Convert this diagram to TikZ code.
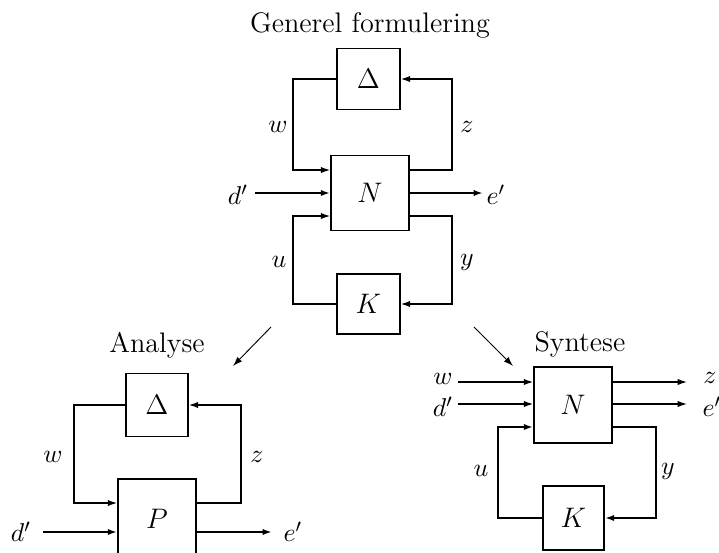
\documentclass[tikz,border=0pt]{standalone}
\usetikzlibrary{arrows.meta}
\begin{document}
\begin{tikzpicture}[x=0.425pt,y=-0.425pt,
 box/.style={draw,line width=0.7pt,inner sep=0pt,font=\large},
 sz/.style 2 args={minimum width=#1*0.425pt,minimum height=#2*0.425pt},
 thin/.style={line width=0.55pt},
 hair/.style={line width=0.4pt},
 thk/.style={line width=0.9pt},
 arr/.style={-{Latex[length=4pt,width=2.7pt]}},
 lbl/.style={inner sep=0pt,font=\fontsize{10.95}{13}\selectfont},
 ttl/.style={font=\large,inner sep=0pt}]
\useasboundingbox (0,0) rectangle (719,552);
\clip (0,0) rectangle (719,552);
% ---------- top: Generel formulering
\node[ttl] (t1) at (370,25) {Generel formulering};
\node[box,sz={63}{61}] (D1) at (368.5,79) {$\Delta$};
\node[box,sz={78}{75}] (N1) at (370,193) {$N$};
\node[box,sz={63}{60}] (K1) at (368.5,304) {$K$};
\coordinate (w1) at (293,170);
\coordinate (z1) at (452,170);
\coordinate (u1) at (293,216);
\coordinate (y1) at (452,216);
\coordinate (d1) at (255,193);
\coordinate (e1) at (483,193);
\draw[thin,arr] (D1.west) -| (w1) -- (N1.west |- w1);
\draw[thin,arr] (N1.east |- z1) -- (z1) |- (D1.east);
\draw[thin,arr] (K1.west) -| (u1) -- (N1.west |- u1);
\draw[thin,arr] (N1.east |- y1) -- (y1) |- (K1.east);
\draw[thk,arr] (d1) -- (N1.west);
\draw[thk,arr] (N1.east) -- (e1);
\node[lbl] (lw1) at (278,127) {$w$};
\node[lbl] (lz1) at (467,127) {$z$};
\node[lbl] (lu1) at (279,262) {$u$};
\node[lbl] (ly1) at (467,262) {$y$};
\node[lbl] (ld1) at (238,195) {$d'$};
\node[lbl] (le1) at (496,195) {$e'$};
% ---------- diagonal arrows
\coordinate (a1) at (271,327);
\coordinate (a2) at (233,366);
\coordinate (b1) at (474,327);
\coordinate (b2) at (513,366);
\draw[hair,arr] (a1) -- (a2);
\draw[hair,arr] (b1) -- (b2);
% ---------- bottom left: Analyse
\node[ttl] (t2) at (157,345) {Analyse};
\node[box,sz={62}{63}] (D2) at (157,405) {$\Delta$};
\node[box,sz={78}{80}] (P) at (157,519) {$P$};
\coordinate (w2) at (74,503);
\coordinate (z2) at (241,503);
\coordinate (d2) at (43,532);
\coordinate (e2) at (272,532);
\draw[thin,arr] (D2.west) -| (w2) -- (P.west |- w2);
\draw[thin,arr] (P.east |- z2) -- (z2) |- (D2.east);
\draw[thk,arr] (d2) -- (P.west |- d2);
\draw[thk,arr] (P.east |- e2) -- (e2);
\node[lbl] (lw2) at (53,457) {$w$};
\node[lbl] (lz2) at (257,457) {$z$};
\node[lbl] (ld2) at (21,532) {$d'$};
\node[lbl] (le2) at (293,532) {$e'$};
% ---------- bottom right: Syntese
\node[ttl] (t3) at (580,344) {Syntese};
\node[box,sz={78}{76}] (N3) at (573,405) {$N$};
\node[box,sz={61}{64}] (K3) at (573.5,518) {$K$};
\coordinate (w3) at (458,382);
\coordinate (d3) at (458,404);
\coordinate (z3) at (687,382);
\coordinate (e3) at (687,404);
\coordinate (u3) at (498,427);
\coordinate (y3) at (656,427);
\draw[thin,arr] (w3) -- (N3.west |- w3);
\draw[thin,arr] (d3) -- (N3.west |- d3);
\draw[thin,arr] (N3.east |- z3) -- (z3);
\draw[thin,arr] (N3.east |- e3) -- (e3);
\draw[thk,arr] (K3.west) -| (u3) -- (N3.west |- u3);
\draw[thk,arr] (N3.east |- y3) -- (y3) |- (K3.east);
\node[lbl] (lw3) at (443,379) {$w$};
\node[lbl] (ld3) at (443,407) {$d'$};
\node[lbl] (lz3) at (710,378) {$z$};
\node[lbl] (le3) at (712,407) {$e'$};
\node[lbl] (lu3) at (481,471) {$u$};
\node[lbl] (ly3) at (668,471) {$y$};
\end{tikzpicture}
\end{document}
